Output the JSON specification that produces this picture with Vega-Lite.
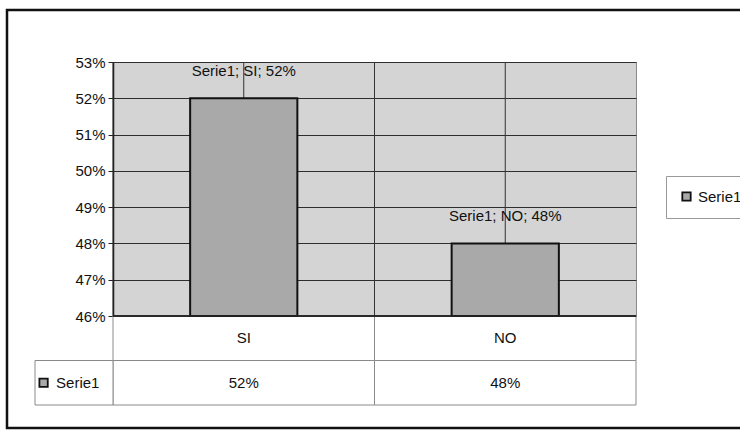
{
  "$schema": "https://vega.github.io/schema/vega-lite/v6.json",
  "width": 523,
  "height": 254,
  "autosize": {"type": "none"},
  "padding": {"left": 113, "top": 62, "right": 104, "bottom": 115},
  "background": "white",
  "config": {
    "view": {"fill": "#d4d4d4", "stroke": "#8a8a8a", "strokeWidth": 1},
    "font": "Liberation Sans Narrow, Arial Narrow, Liberation Sans, sans-serif",
    "text": {"font": "Liberation Sans Narrow, Arial Narrow, Liberation Sans, sans-serif", "fontSize": 15, "color": "#111"},
    "legend": {"labelFont": "Liberation Sans Narrow, Arial Narrow, Liberation Sans, sans-serif"}
  },
  "datasets": {
    "respuestas": [
      {"categoria": "SI", "serie": "Serie1", "valor": 0.52, "etiqueta": "Serie1; SI; 52%"},
      {"categoria": "NO", "serie": "Serie1", "valor": 0.48, "etiqueta": "Serie1; NO; 48%"}
    ],
    "series": [{"serie": "Serie1"}]
  },
  "resolve": {"scale": {"x": "independent", "y": "independent"}},
  "layer": [
    {
      "data": {"name": "respuestas"},
      "encoding": {
        "x": {
          "field": "categoria", "type": "nominal", "sort": ["SI", "NO"],
          "scale": {"domain": ["SI", "NO"], "paddingInner": 0, "paddingOuter": 0},
          "axis": null
        }
      },
      "resolve": {"scale": {"y": "independent"}},
      "layer": [
        {
          "encoding": {
            "y": {"datum": "cat", "type": "nominal", "scale": {"domain": ["cat", "Serie1"], "range": [254, 343], "paddingInner": 0, "paddingOuter": 0}, "axis": null}
          },
          "layer": [
            {"mark": {"type": "rect", "fill": "white", "stroke": "#8a8a8a", "strokeWidth": 1}},
            {"mark": {"type": "rect", "fill": "white", "stroke": "#8a8a8a", "strokeWidth": 1},
             "encoding": {"y": {"datum": "Serie1", "type": "nominal"}}},
            {"mark": {"type": "text", "baseline": "middle", "align": "center"},
             "encoding": {"text": {"field": "categoria"}}},
            {"mark": {"type": "text", "baseline": "middle", "align": "center"},
             "encoding": {"y": {"datum": "Serie1", "type": "nominal"}, "text": {"field": "valor", "type": "quantitative", "format": ".0%"}}}
          ]
        },
        {
          "encoding": {
            "y": {
              "field": "valor", "type": "quantitative",
              "scale": {"domain": [0.46, 0.53], "nice": false, "zero": false},
              "axis": {
                "title": null, "format": ".0%",
                "values": [0.46, 0.47, 0.48, 0.49, 0.5, 0.51, 0.52, 0.53],
                "grid": true, "gridColor": "#2e2e2e", "gridWidth": 1.2, "gridOpacity": 1,
                "domainColor": "#111", "domainWidth": 1.5,
                "tickColor": "#222", "tickSize": 5, "labelPadding": 3,
                "labelFontSize": 15, "labelColor": "#111",
                "labelFont": "Liberation Sans Narrow, Arial Narrow, Liberation Sans, sans-serif"
              }
            }
          },
          "layer": [
            {"mark": {"type": "rule", "color": "#333", "strokeWidth": 1},
             "encoding": {"y": null}},
            {"mark": {"type": "rule", "color": "#333", "strokeWidth": 1},
             "encoding": {"x": {"field": "categoria", "type": "nominal", "bandPosition": 0}, "y": null}},
            {"mark": {"type": "bar", "stroke": "#111", "strokeWidth": 2, "width": {"band": 0.41}},
             "encoding": {
               "y2": {"datum": 0.46},
               "color": {
                 "field": "serie", "type": "nominal",
                 "scale": {"domain": ["Serie1"], "range": ["#a9a9a9"]},
                 "legend": {
                   "orient": "none", "legendX": 553, "legendY": 114, "title": null,
                   "symbolType": "square", "symbolSize": 70, "symbolStrokeColor": "#111", "symbolStrokeWidth": 1.8,
                   "labelFontSize": 15, "labelColor": "#111",
                   "strokeColor": "#999", "fillColor": "white", "padding": 13
                 }
               }
             }},
            {"mark": {"type": "text", "baseline": "middle", "align": "center", "dy": -27},
             "encoding": {"text": {"field": "etiqueta"}}},
            {"mark": {"type": "rule", "color": "#222", "strokeWidth": 1.5},
             "encoding": {"x": null, "y": {"datum": 0.46, "type": "quantitative"}}}
          ]
        }
      ]
    },
    {
      "data": {"name": "series"},
      "encoding": {
        "x": {"field": "serie", "type": "nominal", "scale": {"domain": ["Serie1"], "range": [-78, 0], "paddingInner": 0, "paddingOuter": 0}, "axis": null},
        "y": {"datum": "Serie1", "type": "nominal", "scale": {"domain": ["cat", "Serie1"], "range": [254, 343], "paddingInner": 0, "paddingOuter": 0}, "axis": null}
      },
      "layer": [
        {"mark": {"type": "rect", "fill": "white", "stroke": "#8a8a8a", "strokeWidth": 1}},
        {"mark": {"type": "point", "shape": "square", "size": 70, "filled": true, "fill": "#a9a9a9", "stroke": "#111", "strokeWidth": 1.8, "opacity": 1},
         "encoding": {"x": {"field": "serie", "type": "nominal", "bandPosition": 0.11}}},
        {"mark": {"type": "text", "baseline": "middle", "align": "left"},
         "encoding": {"x": {"field": "serie", "type": "nominal", "bandPosition": 0.27}, "text": {"field": "serie"}}}
      ]
    },
    {
      "data": {"values": [{}]},
      "mark": {"type": "rect", "filled": false, "stroke": "#111", "strokeWidth": 2.5},
      "encoding": {
        "x": {"datum": 0, "type": "quantitative", "scale": {"domain": [0, 1], "range": [-106, 630]}, "axis": null},
        "x2": {"datum": 1},
        "y": {"datum": 0, "type": "quantitative", "scale": {"domain": [0, 1], "range": [-52, 366]}, "axis": null},
        "y2": {"datum": 1}
      }
    }
  ]
}
